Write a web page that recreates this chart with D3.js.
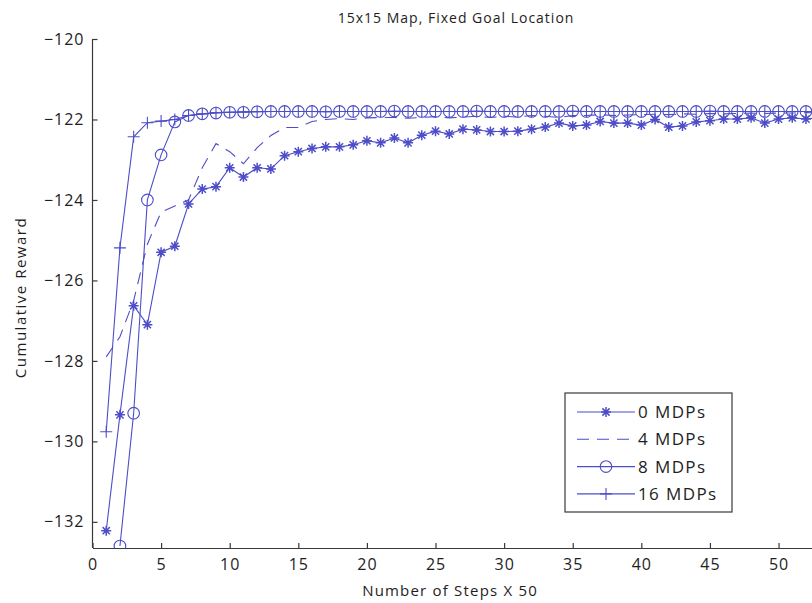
<!DOCTYPE html>
<html>
<head>
<meta charset="utf-8">
<script src="https://cdn.jsdelivr.net/npm/d3@7"></script>
<style>
  html, body { margin: 0; padding: 0; background: #fff; }
  svg { display: block; font-family: "Open Sans", sans-serif; }
</style>
</head>
<body>
<svg id="chart" width="812" height="603"></svg>
<script>
// x values: number of steps (x 50)
const steps = [1, 2, 3, 4, 5, 6, 7, 8, 9, 10, 11, 12, 13, 14, 15, 16, 17, 18, 19, 20,
  21, 22, 23, 24, 25, 26, 27, 28, 29, 30, 31, 32, 33, 34, 35, 36, 37, 38, 39, 40,
  41, 42, 43, 44, 45, 46, 47, 48, 49, 50, 51, 52, 53]

const mdp0 = [-132.22, -129.34, -126.63, -127.1, -125.3, -125.15, -124.1, -123.73, -123.67, -123.2,
  -123.43, -123.2, -123.23, -122.9, -122.8, -122.72, -122.68, -122.68, -122.63, -122.53,
  -122.58, -122.46, -122.58, -122.39, -122.29, -122.36, -122.24, -122.26, -122.3, -122.3,
  -122.29, -122.24, -122.19, -122.09, -122.16, -122.14, -122.05, -122.09, -122.09, -122.14,
  -122.0, -122.19, -122.16, -122.06, -122.03, -121.99, -121.99, -121.96, -122.09, -121.99,
  -121.96, -121.99, -121.95]

const mdp4 = [-127.9, -127.4, -126.5, -125.1, -124.3, -124.15, -124.0, -123.2, -122.6, -122.8,
  -123.1, -122.7, -122.4, -122.2, -122.2, -122.05, -122.0, -121.98, -122.0, -121.96,
  -121.95, -121.95, -121.97, -121.95, -121.93, -121.96, -121.94, -121.92, -121.95, -121.92,
  -121.94, -121.9, -121.92, -121.95, -121.9, -121.9, -121.88, -121.9, -121.89, -121.88,
  -121.87, -121.88, -121.86, -121.87, -121.85, -121.86, -121.85, -121.84, -121.85, -121.84,
  -121.84, -121.83, -121.84]

// 8 MDPs starts at step 2
const mdp8 = [null, -132.6, -129.3, -124.0, -122.88, -122.06, -121.9, -121.86, -121.84, -121.82,
  -121.82, -121.81, -121.8, -121.8, -121.8, -121.8, -121.81, -121.8, -121.8, -121.8,
  -121.8, -121.79, -121.8, -121.8, -121.8, -121.8, -121.8, -121.79, -121.8, -121.8,
  -121.8, -121.8, -121.8, -121.8, -121.79, -121.8, -121.8, -121.8, -121.8, -121.8,
  -121.8, -121.8, -121.8, -121.8, -121.79, -121.8, -121.8, -121.8, -121.8, -121.8,
  -121.8, -121.8, -121.8]

const mdp16 = [-129.76, -125.19, -122.43, -122.08, -122.04, -122.0, -121.9, -121.86, -121.83, -121.82,
  -121.81, -121.8, -121.8, -121.8, -121.8, -121.8, -121.8, -121.8, -121.8, -121.8,
  -121.8, -121.8, -121.8, -121.8, -121.8, -121.8, -121.8, -121.8, -121.8, -121.8,
  -121.8, -121.8, -121.8, -121.8, -121.8, -121.8, -121.8, -121.8, -121.8, -121.8,
  -121.8, -121.8, -121.8, -121.8, -121.8, -121.8, -121.8, -121.8, -121.8, -121.8,
  -121.8, -121.8, -121.8]

const seriesNames = ['0 MDPs', '4 MDPs', '8 MDPs', '16 MDPs']
const seriesValues = [mdp0, mdp4, mdp8, mdp16]
const seriesMarkers = ['star', 'none', 'circle', 'plus']
const seriesDash = [null, '12,8', null, null]

const xTicks = [0, 5, 10, 15, 20, 25, 30, 35, 40, 45, 50]
const yTicks = [-132, -130, -128, -126, -124, -122, -120]

const title = '15x15 Map, Fixed Goal Location'
const xTitle = 'Number of Steps X 50'
const yTitle = 'Cumulative Reward'

const blue = '#4d4dc8'
const axisColor = '#3a3a3a'

const svg = d3.select('#chart')
const x = d3.scaleLinear().domain([0, 53]).range([92.5, 819.7])
const y = d3.scaleLinear().domain([-132.65, -120]).range([548, 39])

// clip to plot area
svg.append('defs').append('clipPath').attr('id', 'plot')
  .append('rect').attr('x', x(0)).attr('y', y(-120) - 8)
  .attr('width', 812 - x(0)).attr('height', y(-132.65) - y(-120) + 8)

// axes (ticks point inward, box off)
const yAxis = d3.axisLeft(y).tickValues(yTicks).tickSizeInner(-5).tickSizeOuter(0)
  .tickPadding(8).tickFormat(d3.format('d'))
const xAxis = d3.axisBottom(x).tickValues(xTicks).tickSizeInner(-5).tickSizeOuter(0)
  .tickPadding(11)

const gy = svg.append('g').attr('transform', `translate(${x(0)},0)`).call(yAxis)
const gx = svg.append('g').attr('transform', `translate(0,${y(-132.65)})`).call(xAxis)
;[gx, gy].forEach(g => {
  g.select('.domain').attr('stroke', axisColor).attr('stroke-width', 1.2)
  g.selectAll('.tick line').attr('stroke', axisColor).attr('stroke-width', 1.2)
  g.selectAll('.tick text').attr('fill', '#1e1e1e').attr('font-size', '16px')
    .attr('font-family', '"Open Sans", sans-serif').attr('letter-spacing', '1px')
})
gy.select('.domain').attr('d', `M0,${y(-120)}V${y(-132.65)}`)

// series
const plot = svg.append('g').attr('clip-path', 'url(#plot)')
const line = d3.line()
  .defined(d => d[1] !== null)
  .x(d => x(d[0])).y(d => y(d[1]))

function drawMarker(g, type, cx, cy) {
  if (type === 'circle') {
    g.append('circle').attr('cx', cx).attr('cy', cy).attr('r', 5.8)
      .attr('fill', 'none').attr('stroke', blue).attr('stroke-width', 1.1)
  } else if (type === 'plus') {
    g.append('path').attr('d', `M${cx - 6},${cy}H${cx + 6}M${cx},${cy - 6}V${cy + 6}`)
      .attr('stroke', blue).attr('stroke-width', 1.1)
  } else if (type === 'star') {
    const r = 5, q = 3.6
    g.append('path')
      .attr('d', `M${cx - r},${cy}H${cx + r}M${cx},${cy - r}V${cy + r}` +
        `M${cx - q},${cy - q}L${cx + q},${cy + q}M${cx - q},${cy + q}L${cx + q},${cy - q}`)
      .attr('stroke', blue).attr('stroke-width', 1.5)
  }
}

seriesValues.forEach((vals, i) => {
  const pts = steps.map((s, j) => [s, vals[j]])
  plot.append('path').datum(pts)
    .attr('d', line)
    .attr('fill', 'none').attr('stroke', blue).attr('stroke-width', 1.1)
    .attr('stroke-dasharray', seriesDash[i])
  if (seriesMarkers[i] !== 'none') {
    const mg = plot.append('g')
    pts.filter(p => p[1] !== null).forEach(p => drawMarker(mg, seriesMarkers[i], x(p[0]), y(p[1])))
  }
})

// title and axis labels
svg.append('text').attr('x', (x(0) + x(53)) / 2).attr('y', 23)
  .attr('text-anchor', 'middle').attr('font-size', '14px').attr('letter-spacing', '1px')
  .attr('fill', '#1e1e1e').text(title)

svg.append('text').attr('x', (x(0) + x(53)) / 2 - 6).attr('y', 596)
  .attr('text-anchor', 'middle').attr('font-size', '15px').attr('letter-spacing', '1.2px')
  .attr('fill', '#1e1e1e').text(xTitle)

svg.append('text')
  .attr('transform', `translate(26,${(y(-120) + y(-132.65)) / 2 + 4}) rotate(-90)`)
  .attr('text-anchor', 'middle').attr('font-size', '15px').attr('letter-spacing', '1.5px')
  .attr('fill', '#1e1e1e').text(yTitle)

// legend
const legend = svg.append('g')
legend.append('rect').attr('x', 565).attr('y', 393).attr('width', 167).attr('height', 119)
  .attr('fill', '#fff').attr('stroke', axisColor).attr('stroke-width', 1.2)
seriesNames.forEach((name, i) => {
  const ly = 412 + i * 27.3
  legend.append('line').attr('x1', 577).attr('x2', 635).attr('y1', ly).attr('y2', ly)
    .attr('stroke', blue).attr('stroke-width', 1.1).attr('stroke-dasharray', seriesDash[i])
  drawMarker(legend, seriesMarkers[i], 606, ly)
  legend.append('text').attr('x', 638).attr('y', ly + 6)
    .attr('font-size', '17px').attr('letter-spacing', '1.4px').attr('fill', '#1e1e1e')
    .text(name)
})
</script>
</body>
</html>
